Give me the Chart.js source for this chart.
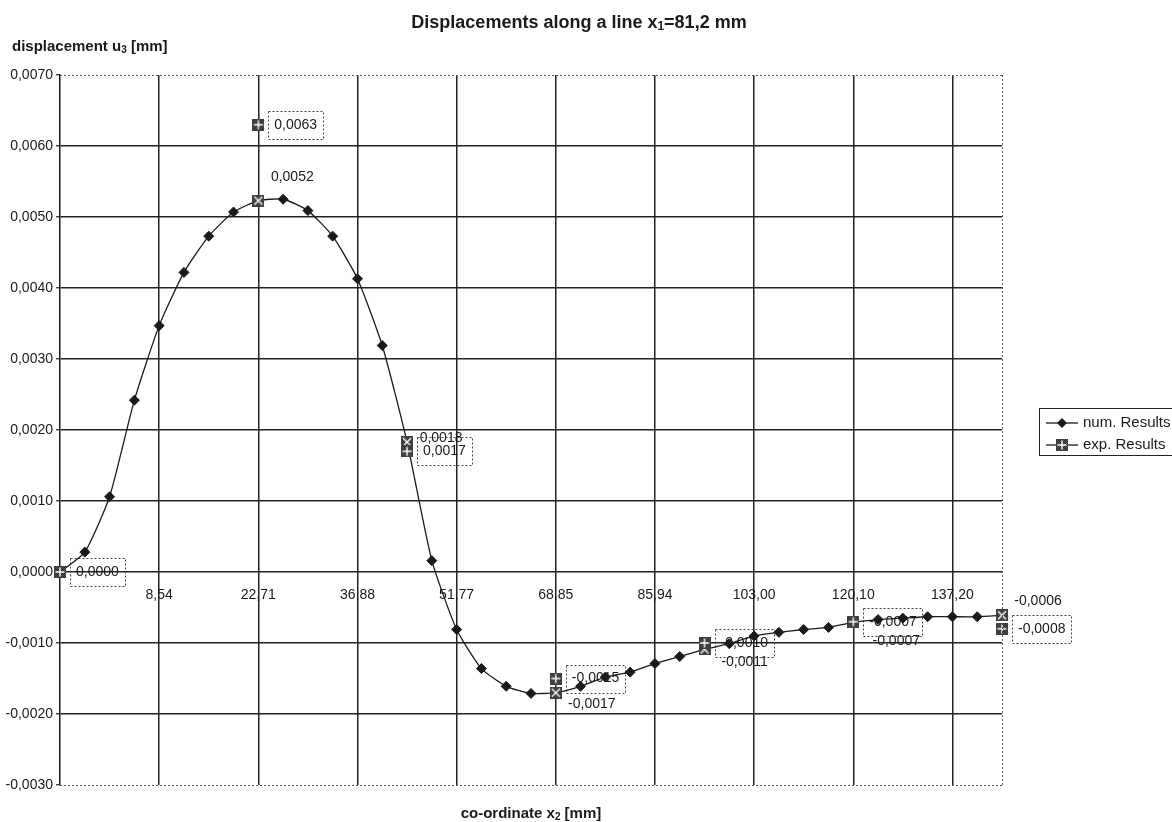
<!DOCTYPE html>
<html><head><meta charset="utf-8">
<script src="https://cdn.jsdelivr.net/npm/chart.js@4/dist/chart.umd.min.js"></script>
<style>html,body{margin:0;padding:0;background:#fff;}#wrap{width:1172px;height:822px;position:relative;overflow:hidden;}</style>
</head><body><div id="wrap"><canvas id="c" width="1172" height="822"></canvas></div>
<script>
// ---------- DATA ----------
const categories = ['', '', '', '', '8,54', '', '', '', '22,71', '', '', '', '36,88', '', '', '',
  '51,77', '', '', '', '68,85', '', '', '', '85,94', '', '', '', '103,00', '', '', '',
  '120,10', '', '', '', '137,20', '', ''];
const numResults = [0.0000, 0.00028, 0.00106, 0.00242, 0.00347, 0.00422, 0.00473, 0.00507,
  0.00523, 0.00525, 0.00509, 0.00473, 0.00413, 0.00319, 0.00183, 0.00016,
  -0.00081, -0.00136, -0.00161, -0.00171, -0.00170, -0.00161, -0.00148, -0.00141,
  -0.00129, -0.00119, -0.00109, -0.00101, -0.00090, -0.00085, -0.00081, -0.00078,
  -0.00071, -0.00067, -0.00065, -0.00063, -0.00063, -0.00063, -0.00061];
const expResults = [0.0000, null, null, null, null, null, null, null,
  0.0063, null, null, null, null, null,
  0.0017, null, null, null, null, null,
  -0.0015, null, null, null, null, null,
  -0.0010, null, null, null, null, null,
  -0.0007, null, null, null, null, null,
  -0.0008];
const labeledNumIdx = [8, 14, 20, 26, 32, 38];
const yMin = -0.003, yMax = 0.007, yStep = 0.001;
const seriesNames = ['num. Results', 'exp. Results'];

// ---------- STYLE ----------
const FONT = '"Liberation Sans", Arial, sans-serif';
const INK = '#1a1a1a';
const GRID = '#222222';
// label offsets (text centre relative to point) for the numeric-series labels
const numLabelOffsets = {8: [34, -24], 14: [34, -4], 20: [36, 11], 26: [40, 13], 32: [43, 19], 38: [36, -14]};

function fmt(v) {
  if (Math.abs(v) < 5e-6) return '0,0000';
  return v.toFixed(4).replace('.', ',');
}

function makeMarker(kind) {
  const c = document.createElement('canvas');
  c.width = 12; c.height = 12;
  const g = c.getContext('2d');
  g.fillStyle = '#2a2a2a';
  g.fillRect(0, 0, 12, 12);
  g.fillStyle = '#555555';
  for (let y = 0; y < 12; y++) for (let x = (y % 2); x < 12; x += 2) g.fillRect(x, y, 1, 1);
  g.strokeStyle = '#ffffff';
  g.lineWidth = 1.4;
  g.beginPath();
  if (kind === 'plus') {
    g.moveTo(6, 1.5); g.lineTo(6, 10.5);
    g.moveTo(1.5, 6); g.lineTo(10.5, 6);
  } else {
    g.moveTo(2, 2); g.lineTo(10, 10);
    g.moveTo(10, 2); g.lineTo(2, 10);
  }
  g.stroke();
  return c;
}
const plusMarker = makeMarker('plus');
const xMarker = makeMarker('x');

function drawRich(ctx, segs, x, y, align) {
  let w = 0;
  segs.forEach(s => { ctx.font = s.f; s.w = ctx.measureText(s.t).width; w += s.w; });
  let cx = align === 'center' ? x - w / 2 : x;
  ctx.textAlign = 'left';
  ctx.textBaseline = 'middle';
  segs.forEach(s => { ctx.font = s.f; ctx.fillText(s.t, cx, y + (s.dy || 0)); cx += s.w; });
}

const annot = {
  id: 'annot',
  beforeDatasetsDraw(chart) {
    const ctx = chart.ctx;
    ctx.save();
    ctx.fillStyle = INK;
    ctx.font = '14px ' + FONT;
    ctx.textAlign = 'center';
    ctx.textBaseline = 'middle';
    const m0 = chart.getDatasetMeta(0);
    labeledNumIdx.forEach(i => {
      const p = m0.data[i];
      const o = numLabelOffsets[i] || [36, 0];
      ctx.fillText(fmt(numResults[i]), p.x + o[0], p.y + o[1]);
    });
    const m1 = chart.getDatasetMeta(1);
    expResults.forEach((v, i) => {
      if (v === null) return;
      const p = m1.data[i];
      const t = fmt(v);
      const tw = ctx.measureText(t).width;
      const bw = tw + 12, bh = 28;
      const left = p.x + 10;
      ctx.save();
      ctx.setLineDash([2, 2]);
      ctx.strokeStyle = '#444';
      ctx.lineWidth = 1;
      ctx.strokeRect(Math.round(left) + 0.5, Math.round(p.y - bh / 2) + 0.5, Math.round(bw), bh);
      ctx.restore();
      ctx.fillText(t, left + bw / 2, p.y);
    });
    ctx.restore();
  },
  afterDraw(chart) {
    const ctx = chart.ctx;
    const a = chart.chartArea;
    ctx.save();
    // dotted plot border (top, right, bottom)
    ctx.setLineDash([2, 2]);
    ctx.strokeStyle = '#555';
    ctx.lineWidth = 1;
    ctx.beginPath();
    ctx.moveTo(a.left, Math.round(a.top) + 0.5); ctx.lineTo(a.right, Math.round(a.top) + 0.5);
    ctx.moveTo(Math.round(a.right) + 0.5, a.top); ctx.lineTo(Math.round(a.right) + 0.5, a.bottom);
    ctx.moveTo(a.left, Math.round(a.bottom) + 0.5); ctx.lineTo(a.right, Math.round(a.bottom) + 0.5);
    ctx.stroke();
    ctx.setLineDash([]);
    ctx.fillStyle = INK;
    // title
    drawRich(ctx, [
      {t: 'Displacements along a line x', f: 'bold 18px ' + FONT},
      {t: '1', f: 'bold 12px ' + FONT, dy: 4},
      {t: '=81,2 mm', f: 'bold 18px ' + FONT}
    ], 579, 23, 'center');
    // y title
    drawRich(ctx, [
      {t: 'displacement u', f: 'bold 15px ' + FONT},
      {t: '3', f: 'bold 10px ' + FONT, dy: 3},
      {t: ' [mm]', f: 'bold 15px ' + FONT}
    ], 12, 47, 'left');
    // x title
    drawRich(ctx, [
      {t: 'co-ordinate x', f: 'bold 15px ' + FONT},
      {t: '2', f: 'bold 10px ' + FONT, dy: 3},
      {t: ' [mm]', f: 'bold 15px ' + FONT}
    ], (a.left + a.right) / 2, 814, 'center');
    // legend
    ctx.strokeStyle = '#222';
    ctx.lineWidth = 1;
    ctx.strokeRect(1039.5, 408.5, 150, 47);
    const ly = [423, 445];
    ctx.strokeStyle = INK;
    ctx.lineWidth = 1.3;
    ly.forEach(y => { ctx.beginPath(); ctx.moveTo(1046, y); ctx.lineTo(1078, y); ctx.stroke(); });
    ctx.fillStyle = INK;
    ctx.beginPath();
    ctx.moveTo(1062, ly[0] - 5); ctx.lineTo(1067, ly[0]); ctx.lineTo(1062, ly[0] + 5); ctx.lineTo(1057, ly[0]);
    ctx.closePath(); ctx.fill();
    ctx.drawImage(plusMarker, 1056, ly[1] - 6);
    ctx.font = '15px ' + FONT;
    ctx.textAlign = 'left';
    ctx.textBaseline = 'middle';
    ctx.fillText(seriesNames[0], 1083, ly[0]);
    ctx.fillText(seriesNames[1], 1083, ly[1]);
    ctx.restore();
  }
};

new Chart(document.getElementById('c'), {
  type: 'line',
  data: {
    labels: categories,
    datasets: [
      {
        label: seriesNames[0], data: numResults, order: 1,
        borderColor: INK, borderWidth: 1.3, tension: 0.18, clip: false,
        pointStyle: ctx => labeledNumIdx.includes(ctx.dataIndex) ? xMarker : 'rectRot',
        pointRadius: 5, pointBackgroundColor: INK, pointBorderColor: INK, pointBorderWidth: 1
      },
      {
        label: seriesNames[1], data: expResults, order: 0, showLine: false, clip: false,
        pointStyle: plusMarker, pointRadius: 6
      }
    ]
  },
  options: {
    responsive: false, animation: false, events: [],
    layout: {padding: {left: 0, right: 170, top: 75, bottom: 37}},
    plugins: {legend: {display: false}, tooltip: {enabled: false}, title: {display: false}},
    scales: {
      x: {
        type: 'category', position: {y: 0}, offset: false,
        grid: {
          color: c => (c.index % 4 === 0 && c.index > 0 && c.index < categories.length - 1) ? GRID : 'rgba(0,0,0,0)',
          lineWidth: 1.5, drawTicks: false
        },
        border: {display: false},
        ticks: {autoSkip: false, maxRotation: 0, minRotation: 0, padding: 15, color: INK, font: {family: FONT, size: 14}}
      },
      y: {
        min: yMin, max: yMax, position: 'left',
        afterFit: s => { s.width = 60; },
        ticks: {stepSize: yStep, padding: 3, color: INK, font: {family: FONT, size: 14}, callback: v => fmt(v)},
        grid: {
          color: c => (c.tick && (Math.abs(c.tick.value - yMax) < 1e-9 || Math.abs(c.tick.value - yMin) < 1e-9)) ? 'rgba(0,0,0,0)' : GRID,
          lineWidth: 1.5, tickLength: 4, tickColor: GRID, tickWidth: 1.2
        },
        border: {display: true, color: INK, width: 1.5}
      }
    }
  },
  plugins: [annot]
});
</script>
</body></html>
